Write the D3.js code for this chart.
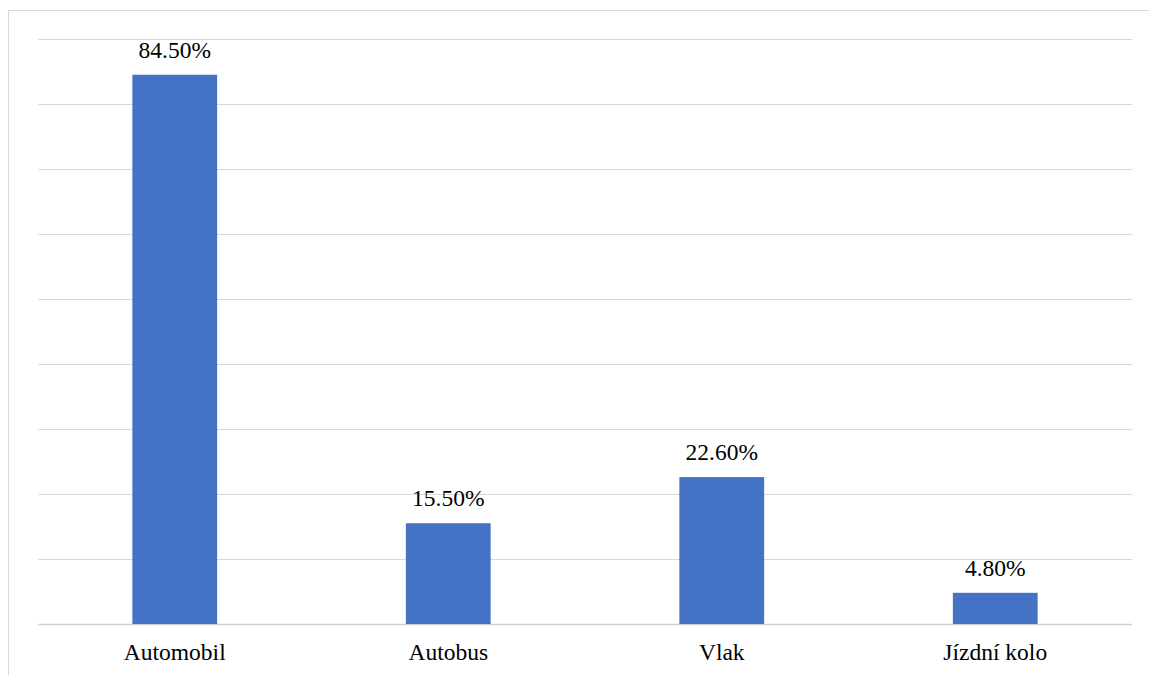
<!DOCTYPE html>
<html><head><meta charset="utf-8">
<script src="https://cdn.jsdelivr.net/npm/d3@7"></script>
<style>body{margin:0;background:#fff}svg{display:block}
svg text{font-family:"Liberation Serif","Times New Roman",Times,"DejaVu Serif",serif;}</style>
</head><body>
<svg id="c" width="1149" height="675"></svg>
<script>
const categories = ["Automobil", "Autobus", "Vlak", "Jízdní kolo"];
const values = [84.5, 15.5, 22.6, 4.8];
const yTicks = [0,10,20,30,40,50,60,70,80,90];

const svg = d3.select("#c");
const W = 1149, H = 675;
const m = {left:38, right:1132, top:39, bottom:624};

// outer border
svg.append("rect").attr("x",8.5).attr("y",10.5).attr("width",W+10).attr("height",H+10)
  .attr("fill","none").attr("stroke","#d9d9d9").attr("stroke-width",1);

const x = d3.scaleBand().domain(categories).range([m.left,m.right]).paddingInner(0.69).paddingOuter(0.345);
const y = d3.scaleLinear().domain([0,90]).range([m.bottom,m.top]);

svg.append("g").selectAll("line").data(yTicks).join("line")
  .attr("x1",m.left).attr("x2",m.right)
  .attr("y1",d=>Math.round(y(d))+0.5).attr("y2",d=>Math.round(y(d))+0.5)
  .attr("stroke",d=>d===0?"#d0d0d0":"#d9d9d9").attr("stroke-width",d=>d===0?1.5:1.2);

svg.append("g").selectAll("rect").data(values).join("rect")
  .attr("x",(d,i)=>x(categories[i])).attr("width",x.bandwidth())
  .attr("y",d=>y(d)).attr("height",d=>y(0)-y(d)).attr("fill","#4472c4");

svg.append("g").selectAll("text").data(values).join("text")
  .attr("x",(d,i)=>x(categories[i])+x.bandwidth()/2).attr("y",d=>y(d)-17)
  .attr("text-anchor","middle").style("font-size","23.5px").attr("fill","#000")
  .text(d=>d.toFixed(2)+"%");

const xAxis = d3.axisBottom(x).tickSize(0).tickPadding(0);
const gx = svg.append("g").attr("transform",`translate(0,${m.bottom})`).call(xAxis);
gx.select(".domain").remove();
gx.attr("font-family",null).attr("font-size",null);
gx.selectAll("text").style("font-size","23.5px").attr("fill","#000")
  .attr("dy",null).attr("y",36);
</script>
</body></html>
